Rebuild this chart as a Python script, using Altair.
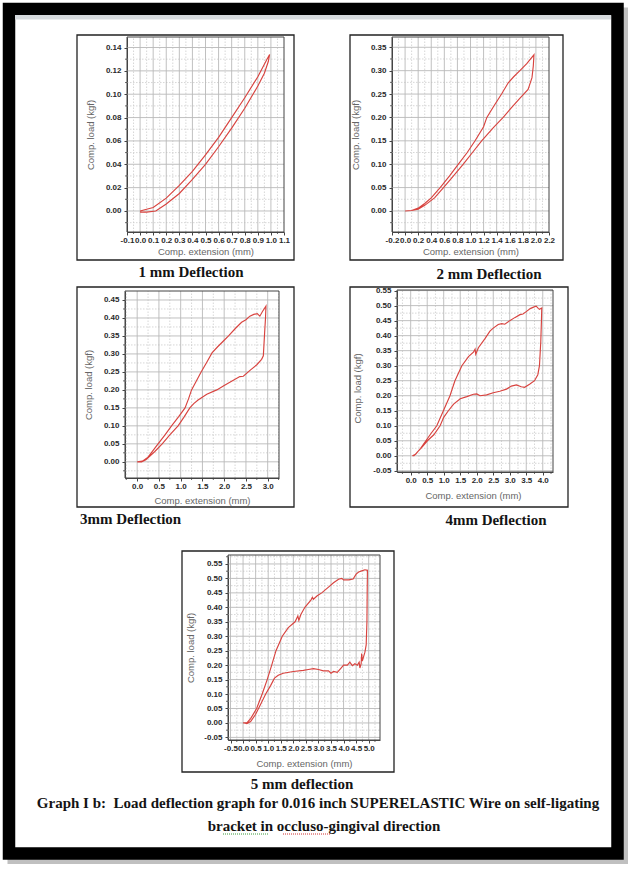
import altair as alt
import pandas as pd

W, H = 634, 871

# ---------------- data ----------------
panel_titles = ["1 mm Deflection", "2 mm Deflection", "3mm Deflection",
                "4mm Deflection", "5 mm deflection"]
caption_lines = [
    "Graph I b:\u00a0 Load deflection graph for 0.016 inch SUPERELASTIC Wire on self-ligating",
    "bracket in occluso-gingival direction",
]
x_title = "Comp. extension (mm)"
y_title = "Comp. load (kgf)"

# Panel 1 (1 mm)
p1_xticks = [-0.1, 0.0, 0.1, 0.2, 0.3, 0.4, 0.5, 0.6, 0.7, 0.8, 0.9, 1.0, 1.1]
p1_yticks = [0.0, 0.02, 0.04, 0.06, 0.08, 0.10, 0.12, 0.14]
p1_load_x = [0.0, 0.1, 0.2, 0.3, 0.4, 0.5, 0.6, 0.7, 0.8, 0.9, 0.97, 0.99]
p1_load_y = [0.0, 0.003, 0.011, 0.022, 0.034, 0.048, 0.063, 0.080, 0.097, 0.115, 0.130, 0.134]
p1_unload_x = [0.98, 0.95, 0.9, 0.8, 0.7, 0.6, 0.5, 0.4, 0.3, 0.2, 0.12, 0.05, 0.0]
p1_unload_y = [0.128, 0.118, 0.107, 0.088, 0.071, 0.055, 0.040, 0.027, 0.015, 0.006, 0.0, -0.001, -0.001]

# Panel 2 (2 mm)
p2_xticks = [-0.2, 0.0, 0.2, 0.4, 0.6, 0.8, 1.0, 1.2, 1.4, 1.6, 1.8, 2.0, 2.2]
p2_yticks = [0.0, 0.05, 0.10, 0.15, 0.20, 0.25, 0.30, 0.35]
p2_load_x = [0.0, 0.1, 0.2, 0.3, 0.4, 0.536, 0.68, 0.815, 0.95, 1.07, 1.2, 1.25, 1.36, 1.475, 1.577, 1.66, 1.755, 1.86, 1.97]
p2_load_y = [0.0, 0.001, 0.006, 0.016, 0.028, 0.050, 0.075, 0.100, 0.125, 0.150, 0.180, 0.200, 0.225, 0.250, 0.274, 0.287, 0.300, 0.315, 0.334]
p2_unload_x = [1.96, 1.94, 1.9, 1.88, 1.75, 1.62, 1.5, 1.36, 1.17, 1.03, 0.89, 0.74, 0.587, 0.45, 0.3, 0.2, 0.1, 0.0]
p2_unload_y = [0.310, 0.285, 0.268, 0.260, 0.240, 0.220, 0.200, 0.180, 0.150, 0.125, 0.100, 0.075, 0.050, 0.028, 0.012, 0.004, 0.001, 0.0]

# Panel 3 (3 mm)
p3_xticks = [0.0, 0.5, 1.0, 1.5, 2.0, 2.5, 3.0]
p3_yticks = [0.0, 0.05, 0.10, 0.15, 0.20, 0.25, 0.30, 0.35, 0.40, 0.45]
p3_load_x = [0.0, 0.12, 0.25, 0.48, 0.64, 0.79, 0.95, 1.1, 1.18, 1.25, 1.36, 1.47, 1.6, 1.72,
             1.85, 2.0, 2.1, 2.25, 2.4, 2.5, 2.59, 2.68, 2.76, 2.82, 2.88, 2.96]
p3_load_y = [0.0, 0.002, 0.013, 0.050, 0.075, 0.100, 0.125, 0.150, 0.175, 0.200, 0.225, 0.250, 0.277, 0.303,
             0.320, 0.338, 0.350, 0.370, 0.388, 0.395, 0.405, 0.410, 0.412, 0.405, 0.418, 0.433]
p3_unload_x = [2.95, 2.93, 2.9, 2.86, 2.75, 2.6, 2.44, 2.36, 2.2, 2.0, 1.83, 1.6, 1.4, 1.3, 1.21,
               1.08, 0.94, 0.75, 0.575, 0.4, 0.2, 0.1, 0.0]
p3_unload_y = [0.400, 0.360, 0.295, 0.285, 0.270, 0.255, 0.238, 0.237, 0.226, 0.212, 0.200, 0.188, 0.172, 0.162, 0.150,
               0.125, 0.100, 0.075, 0.050, 0.028, 0.006, 0.0, 0.0]

# Panel 4 (4 mm)
p4_xticks = [0.0, 0.5, 1.0, 1.5, 2.0, 2.5, 3.0, 3.5, 4.0]
p4_yticks = [-0.05, 0.0, 0.05, 0.10, 0.15, 0.20, 0.25, 0.30, 0.35, 0.40, 0.45, 0.50, 0.55]
p4_load_x = [0.05, 0.15, 0.3, 0.46, 0.62, 0.79, 0.99, 1.19, 1.34, 1.55, 1.75, 1.9, 1.95, 1.97, 2.05,
             2.25, 2.4, 2.5, 2.65, 2.76, 2.85, 3.0, 3.15, 3.31, 3.4, 3.5, 3.62, 3.72, 3.8, 3.87, 3.9, 3.97]
p4_load_y = [0.0, 0.005, 0.025, 0.050, 0.075, 0.100, 0.150, 0.200, 0.250, 0.300, 0.330, 0.345, 0.355, 0.338, 0.360,
             0.390, 0.415, 0.425, 0.437, 0.440, 0.438, 0.450, 0.460, 0.470, 0.472, 0.480, 0.490, 0.495, 0.498, 0.490, 0.488, 0.492]
p4_unload_x = [3.96, 3.94, 3.9, 3.85, 3.75, 3.6, 3.45, 3.35, 3.2, 3.05, 2.9, 2.7, 2.5, 2.3, 2.1, 2.0,
               1.9, 1.7, 1.5, 1.3, 1.14, 1.0, 0.89, 0.7, 0.505, 0.35, 0.2, 0.1, 0.05]
p4_unload_y = [0.450, 0.380, 0.300, 0.270, 0.250, 0.238, 0.228, 0.230, 0.236, 0.232, 0.222, 0.215, 0.210, 0.203, 0.200, 0.206,
               0.205, 0.197, 0.190, 0.172, 0.150, 0.128, 0.100, 0.070, 0.050, 0.030, 0.012, 0.0, 0.0]

# Panel 5 (5 mm)
p5_xticks = [-0.5, 0.0, 0.5, 1.0, 1.5, 2.0, 2.5, 3.0, 3.5, 4.0, 4.5, 5.0]
p5_yticks = [-0.05, 0.0, 0.05, 0.10, 0.15, 0.20, 0.25, 0.30, 0.35, 0.40, 0.45, 0.50, 0.55]
p5_load_x = [0.0, 0.15, 0.3, 0.54, 0.76, 0.96, 1.14, 1.31, 1.56, 1.8, 2.07, 2.18, 2.22, 2.3, 2.46, 2.7,
             2.76, 2.8, 2.95, 3.13, 3.4, 3.6, 3.8, 3.93, 4.0, 4.2, 4.38, 4.5, 4.6, 4.75, 4.85, 4.95]
p5_load_y = [0.0, 0.0, 0.015, 0.050, 0.100, 0.150, 0.200, 0.250, 0.300, 0.330, 0.350, 0.370, 0.355, 0.375, 0.400, 0.425,
             0.435, 0.428, 0.440, 0.450, 0.470, 0.485, 0.497, 0.500, 0.495, 0.495, 0.498, 0.515, 0.522, 0.527, 0.530, 0.528]
p5_unload_x = [4.94, 4.93, 4.9, 4.85, 4.8, 4.75, 4.72, 4.7, 4.65, 4.62, 4.55, 4.45, 4.35, 4.25, 4.15, 4.0,
               3.9, 3.75, 3.6, 3.5, 3.4, 3.2, 3.0, 2.8, 2.6, 2.4, 2.0, 1.6, 1.4, 1.25, 1.1, 0.9, 0.7,
               0.5, 0.3, 0.15, 0.05]
p5_unload_y = [0.450, 0.350, 0.270, 0.245, 0.230, 0.215, 0.240, 0.205, 0.190, 0.210, 0.200, 0.205, 0.198, 0.210, 0.200, 0.200,
               0.190, 0.175, 0.178, 0.172, 0.180, 0.180, 0.185, 0.188, 0.185, 0.182, 0.178, 0.172, 0.165, 0.155, 0.130, 0.100, 0.065,
               0.030, 0.005, -0.002, 0.0]

# ---------------- layout / style (kept apart from the data) ----------------
RED = "#d8433f"
SANS = "Liberation Sans"
SERIF = "Liberation Serif"

layouts = [
    dict(xdom=[-0.1, 1.1], ydom=[-0.018, 0.149], box=(127, 284, 37, 232), frame=(77, 294, 35, 260),
         ytc=(90, 134.5), xtc=(205.5, 251), tpos=(191, 272), talign="center", xfmt=".1f"),
    dict(xdom=[-0.2, 2.2], ydom=[-0.045, 0.372], box=(392, 549, 37, 232), frame=(350, 563, 35, 260),
         ytc=(355, 134.5), xtc=(470.5, 251), tpos=(489, 274), talign="center", xfmt=".1f"),
    dict(xdom=[-0.28, 3.26], ydom=[-0.045, 0.475], box=(125, 279, 291, 478), frame=(77, 294, 287, 507),
         ytc=(88, 384.5), xtc=(202, 500.5), tpos=(80, 519), talign="left", xfmt=".1f"),
    dict(xdom=[-0.415, 4.31], ydom=[-0.054, 0.552], box=(397, 553, 290, 472), frame=(350, 568, 287, 507),
         ytc=(357, 388), xtc=(473, 495), tpos=(496, 520), talign="center", xfmt=".1f"),
    dict(xdom=[-0.6, 5.45], ydom=[-0.059, 0.581], box=(228, 380, 555, 740), frame=(182, 394, 551, 772),
         ytc=(190, 647.5), xtc=(304, 763), tpos=(302, 784), talign="center", xfmt=".1f"),
]

panels_data = [
    (p1_load_x, p1_load_y, p1_unload_x, p1_unload_y, p1_xticks, p1_yticks),
    (p2_load_x, p2_load_y, p2_unload_x, p2_unload_y, p2_xticks, p2_yticks),
    (p3_load_x, p3_load_y, p3_unload_x, p3_unload_y, p3_xticks, p3_yticks),
    (p4_load_x, p4_load_y, p4_unload_x, p4_unload_y, p4_xticks, p4_yticks),
    (p5_load_x, p5_load_y, p5_unload_x, p5_unload_y, p5_xticks, p5_yticks),
]

one = pd.DataFrame({"a": [0]})


def minor_values(ticks, dom):
    step = ticks[1] - ticks[0]
    out = []
    for k in range(-40, 200):
        v = round(ticks[0] + (k + 0.5) * step, 6)
        if dom[0] < v < dom[1]:
            out.append(v)
    return out


def major_values(ticks, dom):
    step = ticks[1] - ticks[0]
    out = []
    for k in range(-40, 200):
        v = round(ticks[0] + k * step, 6)
        if dom[0] < v < dom[1]:
            out.append(v)
    return out


def make_panel(data, lay, title):
    lx, ly, ux, uy, xticks, yticks = data
    x0, x1, ytop, ybot = lay["box"]
    xdom, ydom = lay["xdom"], lay["ydom"]
    sx = alt.Scale(domain=xdom, range=[x0, x1], nice=False, zero=False)
    sy = alt.Scale(domain=ydom, range=[ybot, ytop], nice=False, zero=False)
    ax = alt.Axis(
        values=xticks, orient="bottom", offset=ybot - H, grid=False,
        domain=True, domainColor="#444", domainWidth=1,
        ticks=True, tickSize=3, tickColor="#444",
        labelFont=SANS, labelFontWeight="bold", labelFontSize=8, labelColor="#2a2a2a",
        labelPadding=1, labelOverlap=False, labelFlush=False,
        labelExpr="replace(format(datum.value, '" + lay["xfmt"] + "'), '\u2212', '-')",
        title=x_title, titleFont=SANS, titleFontWeight="normal", titleFontSize=9.5,
        titleColor="#666666", titleX=lay["xtc"][0], titleY=lay["xtc"][1] - ybot,
        titleAlign="center", titleBaseline="middle", titleAngle=0,
    )
    ay = alt.Axis(
        values=yticks, orient="left", offset=-x0, grid=False,
        domain=True, domainColor="#444", domainWidth=1,
        ticks=True, tickSize=3, tickColor="#444",
        labelFont=SANS, labelFontWeight="bold", labelFontSize=8, labelColor="#2a2a2a",
        labelPadding=3, labelOverlap=False, labelFlush=False,
        labelExpr="replace(format(datum.value, '.2f'), '\u2212', '-')",
        title=y_title, titleFont=SANS, titleFontWeight="normal", titleFontSize=9.5,
        titleColor="#666666", titleX=lay["ytc"][0] - x0, titleY=lay["ytc"][1],
        titleAlign="center", titleBaseline="middle", titleAngle=270,
    )

    def X(f):
        return alt.X(f + ":Q", scale=sx, axis=ax)

    def Y(f):
        return alt.Y(f + ":Q", scale=sy, axis=ay)

    vmin = pd.DataFrame({"v": minor_values(xticks, xdom), "lo": ydom[0], "hi": ydom[1]})
    hmin = pd.DataFrame({"v": minor_values(yticks, ydom), "lo": xdom[0], "hi": xdom[1]})
    vmaj = pd.DataFrame({"v": major_values(xticks, xdom), "lo": ydom[0], "hi": ydom[1]})
    hmaj = pd.DataFrame({"v": major_values(yticks, ydom), "lo": xdom[0], "hi": xdom[1]})

    minor_style = dict(color="#cdcdcd", strokeWidth=0.8, strokeDash=[1.5, 1.5])
    major_style = dict(color="#b9b9b9", strokeWidth=0.9)

    g1 = alt.Chart(vmin).mark_rule(**minor_style).encode(x=X("v"), y=Y("lo"), y2="hi")
    g2 = alt.Chart(hmin).mark_rule(**minor_style).encode(y=Y("v"), x=X("lo"), x2="hi")
    g3 = alt.Chart(vmaj).mark_rule(**major_style).encode(x=X("v"), y=Y("lo"), y2="hi")
    g4 = alt.Chart(hmaj).mark_rule(**major_style).encode(y=Y("v"), x=X("lo"), x2="hi")

    # small minor tick marks outside the left and bottom edges
    mt_y = alt.Chart(hmin).mark_rule(color="#444", strokeWidth=0.8).encode(
        y=Y("v"), x=alt.value(x0 - 2), x2=alt.value(x0))
    mt_x = alt.Chart(vmin).mark_rule(color="#444", strokeWidth=0.8).encode(
        x=X("v"), y=alt.value(ybot), y2=alt.value(ybot + 2))

    box = pd.DataFrame({"xa": [xdom[0]], "xb": [xdom[1]], "ya": [ydom[0]], "yb": [ydom[1]]})
    border = alt.Chart(box).mark_rect(fillOpacity=0, stroke="#444444", strokeWidth=1).encode(
        x=X("xa"), x2="xb", y=Y("ya"), y2="yb")

    curve = pd.DataFrame({
        "x": list(lx) + list(ux),
        "y": list(ly) + list(uy),
    })
    curve["o"] = range(len(curve))
    line = alt.Chart(curve).mark_line(color=RED, strokeWidth=1.15).encode(
        x=X("x"), y=Y("y"), order="o:Q")

    fx0, fx1, fy0, fy1 = lay["frame"]
    frame = alt.Chart(one).mark_rect(fillOpacity=0, stroke="#222", strokeWidth=1.3).encode(
        x=alt.value(fx0), x2=alt.value(fx1), y=alt.value(fy0), y2=alt.value(fy1))

    tdf = pd.DataFrame({"t": [title]})
    ttl = alt.Chart(tdf).mark_text(font=SERIF, fontWeight="bold", fontSize=15, color="#141414",
                                   align=lay["talign"], baseline="middle").encode(
        x=alt.value(lay["tpos"][0]), y=alt.value(lay["tpos"][1]), text="t:N")

    return alt.layer(g1, g2, g3, g4, mt_y, mt_x, border, line, frame, ttl)


# outer page decoration
shadow = alt.Chart(one).mark_rect(fillOpacity=0, stroke="#8c8c8c", strokeOpacity=0.55, strokeWidth=7).encode(
    x=alt.value(11), x2=alt.value(624.5), y=alt.value(11), y2=alt.value(860.5))
outer = alt.Chart(one).mark_rect(fillOpacity=0, stroke="#000000", strokeWidth=12.5).encode(
    x=alt.value(9), x2=alt.value(617.5), y=alt.value(9), y2=alt.value(853.5))
band = alt.Chart(one).mark_rect(color="#d5d9dd").encode(
    x=alt.value(15), x2=alt.value(611), y=alt.value(15), y2=alt.value(19.5))

cap = pd.DataFrame({"t": caption_lines, "k": [0, 1]})
cap1 = alt.Chart(cap[cap.k == 0]).mark_text(font=SERIF, fontWeight="bold", fontSize=15, color="#141414",
                                            align="center", baseline="middle").encode(
    x=alt.value(318), y=alt.value(803), text="t:N")
cap2 = alt.Chart(cap[cap.k == 1]).mark_text(font=SERIF, fontWeight="bold", fontSize=15, color="#141414",
                                            align="center", baseline="middle").encode(
    x=alt.value(324), y=alt.value(826), text="t:N")
sq1 = alt.Chart(one).mark_rule(color="#3a9a3a", strokeWidth=1, strokeDash=[1, 1]).encode(
    x=alt.value(223), x2=alt.value(268), y=alt.value(834))
sq2 = alt.Chart(one).mark_rule(color="#d03030", strokeWidth=1, strokeDash=[1, 1]).encode(
    x=alt.value(283), x2=alt.value(330), y=alt.value(834))

panels = [make_panel(d, l, t) for d, l, t in zip(panels_data, layouts, panel_titles)]

chart = alt.layer(shadow, outer, band, *panels, cap1, cap2, sq1, sq2).resolve_scale(
    x="independent", y="independent"
).properties(
    width=W, height=H, padding=0, autosize=alt.AutoSizeParams(type="none"), background="white"
).configure_view(stroke=None)

chart.save("out.html", embed_options={"renderer": "svg", "actions": False})
